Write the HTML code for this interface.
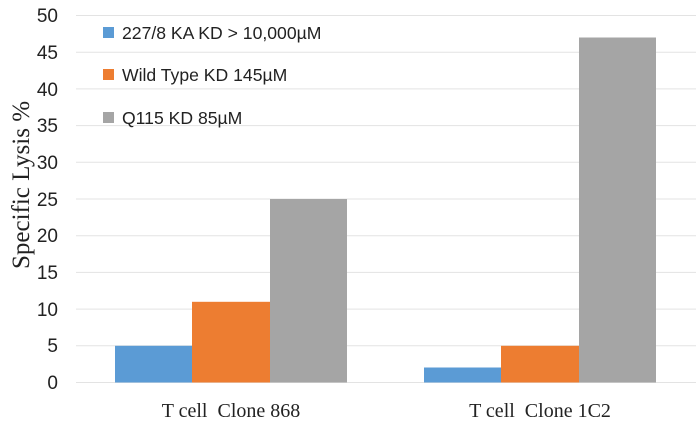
<!DOCTYPE html>
<html><head><style>body{margin:0;background:#fff}</style></head><body>
<svg width="696" height="421" xmlns="http://www.w3.org/2000/svg" style="display:block">
<g stroke="#e3e3e3" stroke-width="1">
<line x1="76" x2="696" y1="15.5" y2="15.5"/><line x1="76" x2="696" y1="52.2" y2="52.2"/>
<line x1="76" x2="696" y1="88.9" y2="88.9"/><line x1="76" x2="696" y1="125.6" y2="125.6"/>
<line x1="76" x2="696" y1="162.3" y2="162.3"/><line x1="76" x2="696" y1="199" y2="199"/>
<line x1="76" x2="696" y1="235.7" y2="235.7"/><line x1="76" x2="696" y1="272.4" y2="272.4"/>
<line x1="76" x2="696" y1="309.1" y2="309.1"/><line x1="76" x2="696" y1="345.8" y2="345.8"/>
<line x1="76" x2="696" y1="382.5" y2="382.5"/>
</g>
<rect x="115" y="345.8" width="77" height="36.7" fill="#5b9bd5"/>
<rect x="192" y="301.8" width="78" height="80.7" fill="#ed7d31"/>
<rect x="270" y="199" width="77" height="183.5" fill="#a5a5a5"/>
<rect x="424" y="367.5" width="77" height="15" fill="#5b9bd5"/>
<rect x="501" y="345.8" width="78" height="36.7" fill="#ed7d31"/>
<rect x="579" y="37.5" width="77" height="345" fill="#a5a5a5"/>
<g font-family="Liberation Sans, Arial, sans-serif" font-size="19" fill="#222" text-anchor="end">
<text x="58" y="22">50</text><text x="58" y="59">45</text><text x="58" y="96">40</text>
<text x="58" y="132">35</text><text x="58" y="169">30</text><text x="58" y="206">25</text>
<text x="58" y="242">20</text><text x="58" y="279">15</text><text x="58" y="316">10</text>
<text x="58" y="352">5</text><text x="58" y="389">0</text>
</g>
<rect x="103" y="27" width="11" height="11" fill="#5b9bd5"/>
<rect x="103" y="69" width="11" height="11" fill="#ed7d31"/>
<rect x="103" y="112" width="11" height="11" fill="#a5a5a5"/>
<g font-family="Liberation Sans, Arial, sans-serif" font-size="17.6" fill="#222">
<text x="122" y="39">227/8 KA KD &gt; 10,000µM</text>
<text x="122" y="81">Wild Type KD 145µM</text>
<text x="122" y="124">Q115 KD 85µM</text>
</g>
<text transform="translate(29,185) rotate(-90)" text-anchor="middle" font-family="Liberation Serif, serif" font-size="25" fill="#222">Specific Lysis %</text>
<g font-family="Liberation Serif, serif" font-size="20" fill="#222" text-anchor="middle">
<text x="231" y="417">T cell&#160; Clone 868</text>
<text x="540" y="417">T cell&#160; Clone 1C2</text>
</g>
</svg>
</body></html>
